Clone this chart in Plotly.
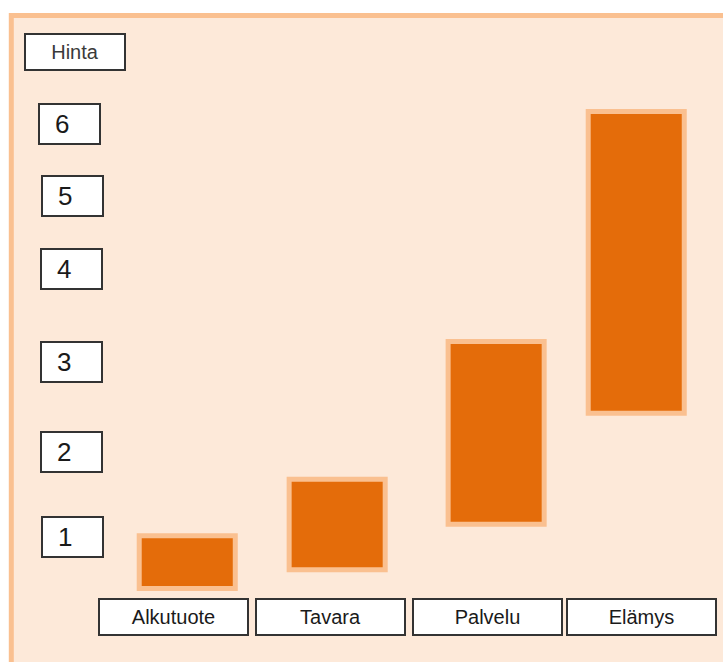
import plotly.graph_objects as go

# ---- data ----
categories = ["Alkutuote", "Tavara", "Palvelu", "Elämys"]
bar_low = [0.377, 0.603, 1.155, 2.499]     # price level where each bar starts
bar_high = [1.015, 1.700, 3.367, 6.151]    # price level where each bar ends
bar_pos = [0.088, 1.048, 2.066, 2.963]     # horizontal position of each bar (category units)
bar_width = 0.615

y_axis_title = "Hinta"
tick_labels = ["1", "2", "3", "4", "5", "6"]
tick_pos = [1.0, 2.035, 3.113, 4.239, 5.134, 6.0]   # where the value boxes sit
cat_label_pos = [0.0, 1.005, 2.011, 2.999]         # where the category boxes sit

# ---- layout helpers (figure is 723 x 662, no margins) ----
W, H = 723, 662
X_UNIT, X_ORIGIN = 156.17, 173.5     # px per category unit, px of category 0
Y_UNIT, Y_ONE = 82.6, 537.0          # px per price unit, px of price 1

def px_to_x(px):
    return (px - X_ORIGIN) / X_UNIT

def px_to_y(py):
    return 1 + (Y_ONE - py) / Y_UNIT

FILL = "#E46C0A"
EDGE = "#FAC090"
PANEL = "#FDE9D9"
TXT = "#1a1a1a"
BOX_EDGE = "#333333"
FONT = "Liberation Sans, Arial, sans-serif"

fig = go.Figure()
fig.add_trace(go.Bar(
    x=bar_pos,
    y=[h - l for l, h in zip(bar_low, bar_high)],
    base=bar_low,
    width=bar_width,
    marker=dict(color=FILL, line=dict(color=EDGE, width=5)),
    hoverinfo="skip",
    showlegend=False,
))

annotations = []
# y-axis title box
annotations.append(dict(
    x=px_to_x(75), y=px_to_y(52), xref="x", yref="y",
    text=y_axis_title, showarrow=False,
    font=dict(family=FONT, size=20, color="#3a3a3a"),
    bgcolor="white", bordercolor=BOX_EDGE, borderwidth=2, borderpad=0,
    width=98, height=34, align="center", valign="middle",
))
# value boxes (digits sit a little left of centre in the reference)
box_x_px = [72.5, 71, 71, 71, 72.5, 69.5]
for lab, pos, bx in zip(tick_labels, tick_pos, box_x_px):
    annotations.append(dict(
        x=px_to_x(bx), y=pos, xref="x", yref="y",
        text=lab + "\u00a0\u00a0", showarrow=False,
        font=dict(family=FONT, size=26, color=TXT),
        bgcolor="white", bordercolor=BOX_EDGE, borderwidth=2, borderpad=0,
        width=59, height=38, align="center", valign="middle",
    ))
# category boxes
for lab, pos in zip(categories, cat_label_pos):
    annotations.append(dict(
        x=pos, y=px_to_y(617), xref="x", yref="y",
        text=lab, showarrow=False,
        font=dict(family=FONT, size=20, color=TXT),
        bgcolor="white", bordercolor=BOX_EDGE, borderwidth=2, borderpad=0,
        width=147, height=34, align="center", valign="middle",
    ))

fig.update_layout(
    width=W, height=H,
    margin=dict(l=0, r=0, t=0, b=0),
    paper_bgcolor="white",
    plot_bgcolor="rgba(0,0,0,0)",
    barmode="overlay",
    xaxis=dict(range=[px_to_x(0), px_to_x(W)], visible=False, fixedrange=True),
    yaxis=dict(range=[px_to_y(H), px_to_y(0)], visible=False, fixedrange=True),
    shapes=[dict(
        type="rect", xref="paper", yref="paper", layer="below",
        x0=11.3 / W, x1=1.05, y0=-0.05, y1=1 - 15.5 / H,
        fillcolor=PANEL, line=dict(color=EDGE, width=5),
    )],
    annotations=annotations,
)

fig.write_html(
    "out.html",
    config={"displayModeBar": False},
    post_script="document.body.style.margin='0px';document.body.style.overflow='hidden';",
)
